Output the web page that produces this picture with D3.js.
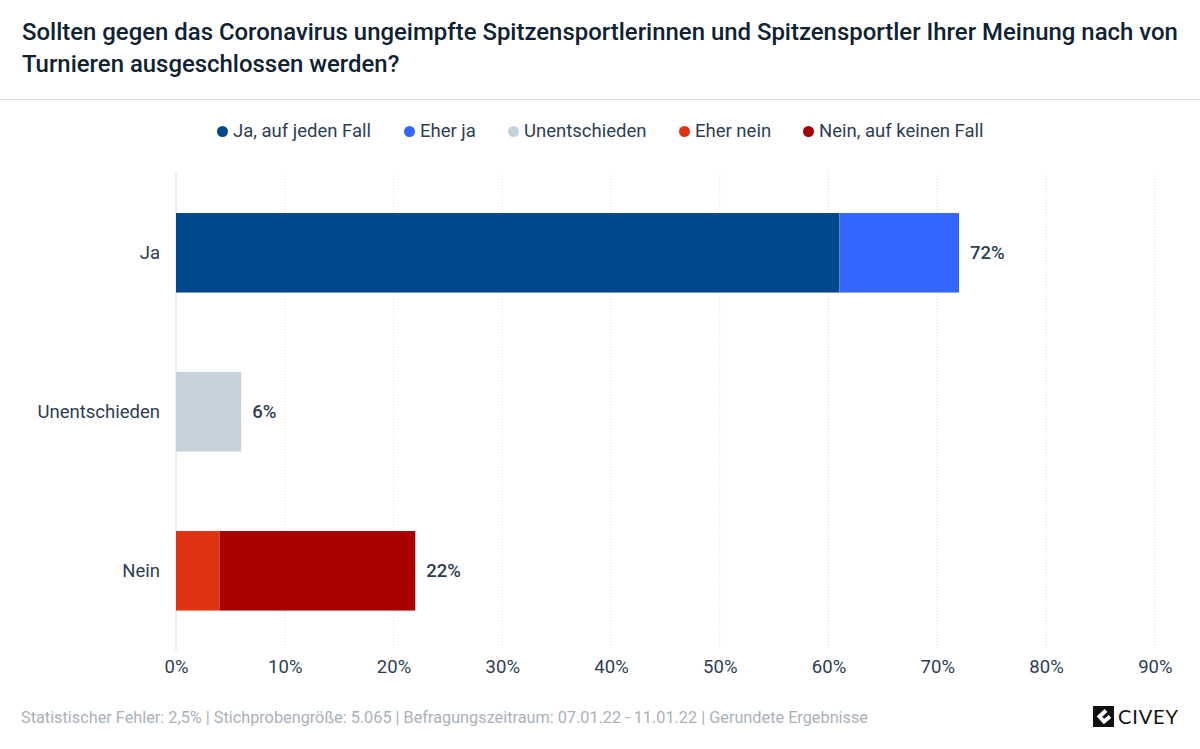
<!DOCTYPE html>
<html lang="de"><head><meta charset="utf-8">
<script src="https://cdn.jsdelivr.net/npm/d3@7/dist/d3.min.js"></script>
<style>html,body{margin:0;padding:0;background:#fff;overflow:hidden}svg{display:block;font-family:Roboto,sans-serif}</style>
</head><body><svg id="c" width="1200" height="749"></svg>
<script>
const titleLines = ["Sollten gegen das Coronavirus ungeimpfte Spitzensportlerinnen und Spitzensportler Ihrer Meinung nach von","Turnieren ausgeschlossen werden?"];
const categories = ["Ja","Unentschieden","Nein"];
const seriesNames = ["Ja, auf jeden Fall","Eher ja","Unentschieden","Eher nein","Nein, auf keinen Fall"];
const seriesColors = ["#00488d","#3366ff","#c5d2dc","#e23214","#a90000"];
const jaValues = [61,11,0,0,0];
const unentschiedenValues = [0,0,6,0,0];
const neinValues = [0,0,0,4,18];
const totalLabels = ["72%","6%","22%"];
const xTicks = [0,10,20,30,40,50,60,70,80,90];
const legendX = [217,404,508,679,803];
const footer = "Statistischer Fehler: 2,5% | Stichprobengröße: 5.065 | Befragungszeitraum: 07.01.22 - 11.01.22 | Gerundete Ergebnisse";

const rows = [jaValues,unentschiedenValues,neinValues];
const svg = d3.select("#c");
const ink = "#2c3e55";
const fs = 18.5;
const x = d3.scaleLinear().domain([0,90]).range([176,1154.8]);
const y = d3.scaleBand().domain(categories).range([173.3,650.3]).paddingInner(0.5).paddingOuter(0.25);

svg.append("g").selectAll("text").data(titleLines).join("text")
  .attr("x",22).attr("y",(d,i)=>40+i*32).attr("font-size",23.93).attr("font-weight",500).attr("fill","#0f2233").text(d=>d);
svg.append("line").attr("x1",0).attr("x2",1200).attr("y1",99.5).attr("y2",99.5).attr("stroke","#dcdfe2");

const leg = svg.append("g").selectAll("g").data(seriesNames).join("g");
leg.append("circle").attr("cx",(d,i)=>legendX[i]+5.5).attr("cy",131.5).attr("r",5.5).attr("fill",(d,i)=>seriesColors[i]);
leg.append("text").attr("x",(d,i)=>legendX[i]+16).attr("y",137).attr("font-size",fs).attr("fill",ink).text(d=>d);

const grid = svg.append("g");
grid.selectAll("line").data(xTicks).join("line")
  .attr("x1",d=>x(d)).attr("x2",d=>x(d)).attr("y1",173).attr("y2",650)
  .attr("stroke",d=>d===0?"#e6e6e6":"#dcdcdc")
  .attr("stroke-width",d=>d===0?1.5:1)
  .attr("stroke-dasharray",d=>d===0?null:"1,2");

const axis = d3.axisBottom(x).tickValues(xTicks).tickFormat(d=>d+"%").tickSize(0).tickPadding(0);
const ax = svg.append("g").attr("transform","translate(0,673)").call(axis);
ax.select(".domain").remove();
ax.selectAll("text").attr("font-size",fs).attr("font-family","Roboto,sans-serif").attr("fill",ink).attr("dy",0).attr("y",0);

svg.append("g").selectAll("text").data(categories).join("text")
  .attr("x",160).attr("y",d=>y(d)+y.bandwidth()/2+6.5).attr("text-anchor","end").attr("font-size",fs).attr("fill",ink).text(d=>d);

categories.forEach((c,ci)=>{
  let acc=0;
  rows[ci].forEach((v,si)=>{
    if(!v) return;
    svg.append("rect").attr("x",x(acc)).attr("width",x(acc+v)-x(acc)).attr("y",y(c)).attr("height",y.bandwidth()).attr("fill",seriesColors[si]);
    acc+=v;
  });
  svg.append("text").attr("x",x(acc)+11).attr("y",y(c)+y.bandwidth()/2+6.5).attr("font-size",fs).attr("font-weight",500).attr("fill",ink).text(totalLabels[ci]);
});

svg.append("text").attr("x",21).attr("y",722.5).attr("font-size",16.27).attr("fill","#a9b2ba").text(footer);

const logo = svg.append("g").attr("transform","translate(1093,706)");
logo.append("rect").attr("width",21).attr("height",21).attr("fill","#111");
logo.append("path").attr("d","M13 4.5 L6.5 10.5 L11 15.5 L17 10.5").attr("fill","none").attr("stroke","#fff").attr("stroke-width",4);
svg.append("text").attr("x",1118).attr("y",724).attr("font-size",20).attr("fill","#111").attr("textLength",60).attr("font-family","Lato,sans-serif").text("CIVEY");
</script></body></html>
